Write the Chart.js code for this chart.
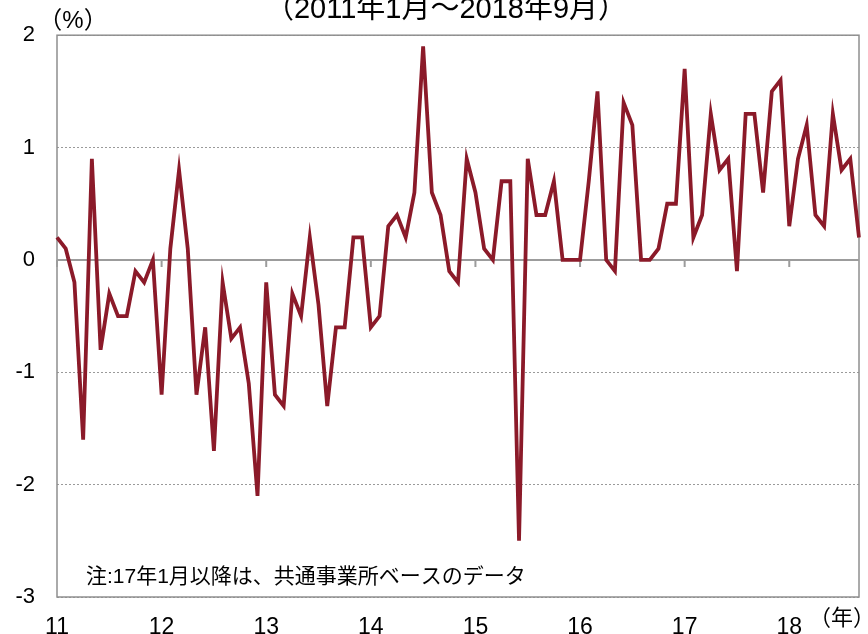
<!DOCTYPE html>
<html><head><meta charset="utf-8">
<script src="https://cdn.jsdelivr.net/npm/chart.js@4/dist/chart.umd.min.js"></script>
<style>html,body{margin:0;padding:0;background:#fff;overflow:hidden}#wrap{position:relative;width:868px;height:634px}</style>
</head><body><div id="wrap"><canvas id="c" width="868" height="634"></canvas></div>
<script>
// ---- data ----
const years = ['11','12','13','14','15','16','17','18'];
const v2011 = [0.2, 0.1, -0.2, -1.6, 0.9, -0.8, -0.3, -0.5, -0.5, -0.1, -0.2, 0];
const v2012 = [-1.2, 0.1, 0.8, 0.1, -1.2, -0.6, -1.7, -0.2, -0.7, -0.6, -1.1, -2.1];
const v2013 = [-0.2, -1.2, -1.3, -0.3, -0.5, 0.2, -0.4, -1.3, -0.6, -0.6, 0.2, 0.2];
const v2014 = [-0.6, -0.5, 0.3, 0.4, 0.2, 0.6, 1.9, 0.6, 0.4, -0.1, -0.2, 0.9];
const v2015 = [0.6, 0.1, 0, 0.7, 0.7, -2.5, 0.9, 0.4, 0.4, 0.7, 0, 0];
const v2016 = [0, 0.7, 1.5, 0, -0.1, 1.4, 1.2, 0, 0, 0.1, 0.5, 0.5];
const v2017 = [1.7, 0.2, 0.4, 1.3, 0.8, 0.9, -0.1, 1.3, 1.3, 0.6, 1.5, 1.6];
const v2018 = [0.3, 0.9, 1.2, 0.4, 0.3, 1.3, 0.8, 0.9, 0.2];
const yearValues = [v2011, v2012, v2013, v2014, v2015, v2016, v2017, v2018];
const yMin = -3, yMax = 2, yStep = 1;
const titleText = '（2011年1月～2018年9月）';
const unitY = '（%）';
const unitX = '（年）';
const noteText = '注:17年1月以降は、共通事業所ベースのデータ';

const labels = [];
const values = [];
yearValues.forEach((arr, yi) => {
  arr.forEach((v, mi) => { labels.push(years[yi] + '/' + (mi + 1)); values.push(v); });
});

const fontLatin = '"Liberation Sans", Arial, "Noto Sans CJK JP", sans-serif';
const fontNarrow = '"Liberation Sans Narrow", "Liberation Sans", "Noto Sans CJK JP", sans-serif';

const framePlugin = {
  id: 'frame',
  beforeDatasetsDraw(chart) {
    const {ctx, chartArea: a, scales: {x, y}} = chart;
    ctx.save();
    ctx.strokeStyle = '#8f8f8f';
    ctx.lineWidth = 1.5;
    ctx.strokeRect(a.left, a.top, a.right - a.left, a.bottom - a.top);
    const y0 = y.getPixelForValue(0);
    ctx.strokeStyle = '#9c9c9c';
    ctx.lineWidth = 2;
    ctx.beginPath();
    ctx.moveTo(a.left, y0); ctx.lineTo(a.right, y0);
    labels.forEach((l, i) => {
      if (i % 12 === 0) {
        const px = x.getPixelForValue(i);
        ctx.moveTo(px, y0); ctx.lineTo(px, y0 + 7);
      }
    });
    ctx.stroke();
    ctx.restore();
  },
  afterDraw(chart) {
    const {ctx} = chart;
    ctx.save();
    ctx.fillStyle = '#000';
    ctx.textAlign = 'center';
    ctx.textBaseline = 'alphabetic';
    ctx.font = '29px ' + fontNarrow;
    ctx.fillText(titleText, 446, 18);
    ctx.textBaseline = 'middle';
    ctx.font = '24px ' + fontLatin;
    ctx.fillText(unitY, 73, 21);
    ctx.font = '22px ' + fontLatin;
    ctx.fillText(unitX, 842, 619);
    ctx.textAlign = 'left';
    ctx.font = '21px ' + fontLatin;
    ctx.fillText(noteText, 86, 577);
    ctx.restore();
  }
};

new Chart(document.getElementById('c').getContext('2d'), {
  type: 'line',
  data: {
    labels,
    datasets: [{
      data: values,
      borderColor: '#8b1a29',
      borderWidth: 3.8,
      pointRadius: 0,
      tension: 0,
      fill: false,
      borderJoinStyle: 'miter'
    }]
  },
  options: {
    responsive: false,
    animation: false,
    devicePixelRatio: 1,
    layout: {padding: {top: 34, right: 3, left: 0, bottom: 0}},
    plugins: {legend: {display: false}, tooltip: {enabled: false}, title: {display: false}},
    scales: {
      x: {
        type: 'category',
        offset: false,
        grid: {display: false},
        border: {display: false},
        ticks: {
          autoSkip: false, maxRotation: 0, minRotation: 0, padding: 9, color: '#000',
          font: {family: fontLatin, size: 23},
          callback: (v, i) => (i % 12 === 0 ? years[i / 12] : '')
        },
        afterFit: s => { s.height = 37; }
      },
      y: {
        min: yMin, max: yMax,
        ticks: {stepSize: yStep, padding: 22, color: '#000', font: {family: fontLatin, size: 22}},
        grid: {color: '#9a9a9a', lineWidth: 1, drawTicks: false},
        border: {display: false, dash: [2, 2]},
        afterFit: s => { s.width = 57; }
      }
    }
  },
  plugins: [framePlugin]
});
</script>
</body></html>
